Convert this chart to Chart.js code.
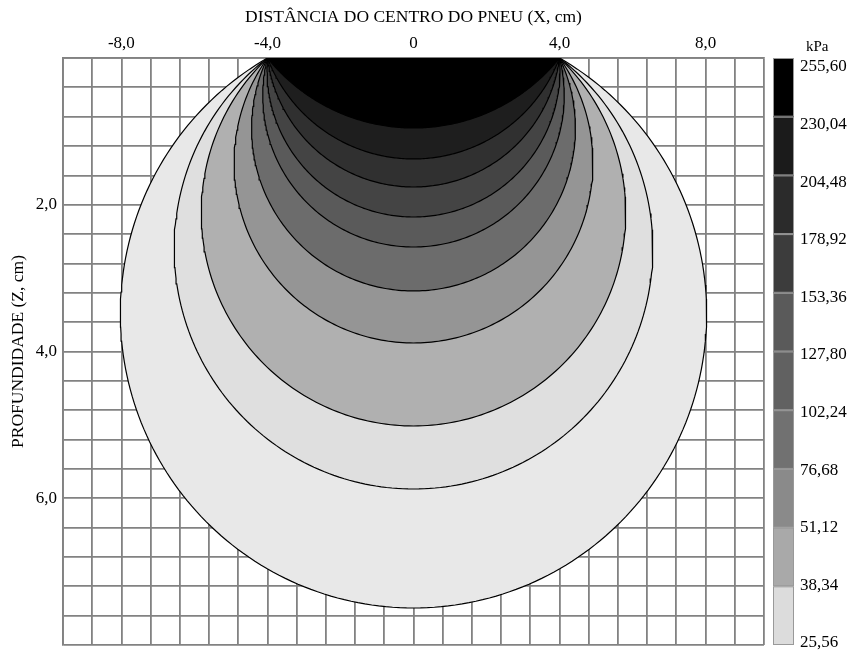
<!DOCTYPE html>
<html><head><meta charset="utf-8">
<script src="https://cdn.jsdelivr.net/npm/chart.js@4.4.1/dist/chart.umd.min.js"></script>
<style>html,body{margin:0;padding:0;background:#fff}</style>
</head><body>
<canvas id="c" width="853" height="650"></canvas>
<script>
// ---- data ----
// isobar levels (kPa), from the innermost contour to the outermost
const isobarLevels = [230.04, 204.48, 178.92, 153.36, 127.80, 102.24, 76.68, 51.12, 38.34, 25.56];
// depth (Z, cm) where each isobar crosses the tyre centre line (X = 0)
const centreDepths = [0.954, 1.376, 1.758, 2.167, 2.576, 3.175, 3.884, 5.015, 5.874, 7.496];
// half-width of the loaded strip (X, cm): every isobar starts/ends at X = ±4
const loadHalfWidth = 4.0;
// labelled ticks
const xTickLabels = [-8, -4, 0, 4, 8];
const yTickLabels = [2, 4, 6];
// colour-bar class boundaries (kPa)
const colorbarLabels = ['255,60','230,04','204,48','178,92','153,36','127,80','102,24','76,68','51,12','38,34','25,56'];

// ---- styles ----
const bandFills = ['#000000','#1e1e1e','#303030','#444444','#5a5a5a','#6c6c6c','#959595','#b0b0b0','#dfdfdf','#e8e8e8'];
const colorbarFills = ['#000000','#1b1b1b','#2b2b2b','#3c3c3c','#5a5a5a','#616161','#717171','#8a8a8a','#a9a9a9','#dcdcdc'];
const SERIF = "'Liberation Serif','Times New Roman',serif";
const FONT_SIZE = 17;
const GRID = '#828282';
const SCREEN_ASPECT = 2; // one Z unit is drawn twice as long as one X unit

// isobar outline: circle (on screen) through (-a,0), (a,0) and (0,D)
function isobarPath(D, a) {
  const b = D * SCREEN_ASPECT;
  const vc = (b * b - a * a) / (2 * b);
  const R = b - vc;
  const t0 = Math.atan2(-vc, a), t1 = Math.PI - t0;
  const pts = [];
  const N = 220;
  for (let i = 0; i <= N; i++) {
    const t = t0 + (t1 - t0) * i / N;
    pts.push({ x: R * Math.cos(t), y: Math.max(0, (vc + R * Math.sin(t)) / SCREEN_ASPECT) });
  }
  return pts;
}

const datasets = isobarLevels.map((lvl, i) => ({
  label: lvl.toFixed(2) + ' kPa',
  data: isobarPath(centreDepths[i], loadHalfWidth),
  showLine: true,
  fill: 'shape',
  backgroundColor: bandFills[i],
  borderColor: '#000',
  borderWidth: 1.2,
  pointRadius: 0,
  tension: 0
}));

const fmt = v => Math.abs(v) < 1e-9 ? '0' : v.toFixed(1).replace('.', ',');
const near = (v, arr) => arr.find(t => Math.abs(t - v) < 1e-6);

const colorbar = {
  id: 'colorbar',
  afterDraw(chart) {
    const ctx = chart.ctx, a = chart.chartArea;
    const x = a.right + 9, w = 21;
    const n = colorbarFills.length;
    const h = (a.bottom - a.top) / n;
    ctx.save();
    for (let i = 0; i < n; i++) {
      ctx.fillStyle = colorbarFills[i];
      ctx.fillRect(x, a.top + i * h, w, h);
      ctx.strokeStyle = '#999';
      ctx.lineWidth = 1;
      ctx.strokeRect(x + 0.5, a.top + i * h + 0.5, w - 1, h - 1);
    }
    ctx.fillStyle = '#000';
    ctx.font = FONT_SIZE + 'px ' + SERIF;
    ctx.textAlign = 'left';
    ctx.textBaseline = 'middle';
    const step = (a.bottom - a.top - 11) / (colorbarLabels.length - 1);
    colorbarLabels.forEach((t, i) => ctx.fillText(t, x + 27, a.top + 9 + i * step));
    ctx.font = '15px ' + SERIF;
    ctx.fillText('kPa', x + 33, a.top - 11);
    ctx.restore();
  }
};

new Chart(document.getElementById('c'), {
  type: 'scatter',
  data: { datasets },
  options: {
    responsive: false,
    devicePixelRatio: 1,
    animation: false,
    layout: { padding: { left: 0, right: 89, top: 0, bottom: 5 } },
    plugins: { legend: { display: false }, tooltip: { enabled: false } },
    scales: {
      x: {
        type: 'linear', position: 'top', min: -9.6, max: 9.6, z: 1,
        afterFit(s) { s.height = 58; s.paddingLeft = 0; s.paddingRight = 0; },
        grid: { color: GRID, lineWidth: 1.8, drawTicks: false },
        border: { color: GRID, width: 1.8 },
        ticks: {
          stepSize: 0.8, autoSkip: false, maxRotation: 0, padding: 4,
          color: '#000', font: { family: SERIF, size: FONT_SIZE },
          callback: v => { const t = near(v, xTickLabels); return t === undefined ? '' : fmt(t); }
        },
        title: { display: true, text: 'DISTÂNCIA DO CENTRO DO PNEU (X, cm)', color: '#000',
                 font: { family: SERIF, size: 17.5 }, padding: { top: 7, bottom: 0 } }
      },
      y: {
        type: 'linear', position: 'left', min: 0, max: 8, reverse: true, z: 1,
        afterFit(s) { s.width = 63; s.paddingTop = 0; s.paddingBottom = 0; },
        grid: { color: GRID, lineWidth: 1.8, drawTicks: false },
        border: { color: GRID, width: 1.8 },
        ticks: {
          stepSize: 0.4, autoSkip: false, padding: 6,
          color: '#000', font: { family: SERIF, size: FONT_SIZE },
          callback: v => { const t = near(v, yTickLabels); return t === undefined ? '' : fmt(t); }
        },
        title: { display: true, text: 'PROFUNDIDADE (Z, cm)', color: '#000',
                 font: { family: SERIF, size: 17.5 }, padding: { top: 8, bottom: 0 } }
      }
    }
  },
  plugins: [colorbar]
});
</script>
</body></html>
